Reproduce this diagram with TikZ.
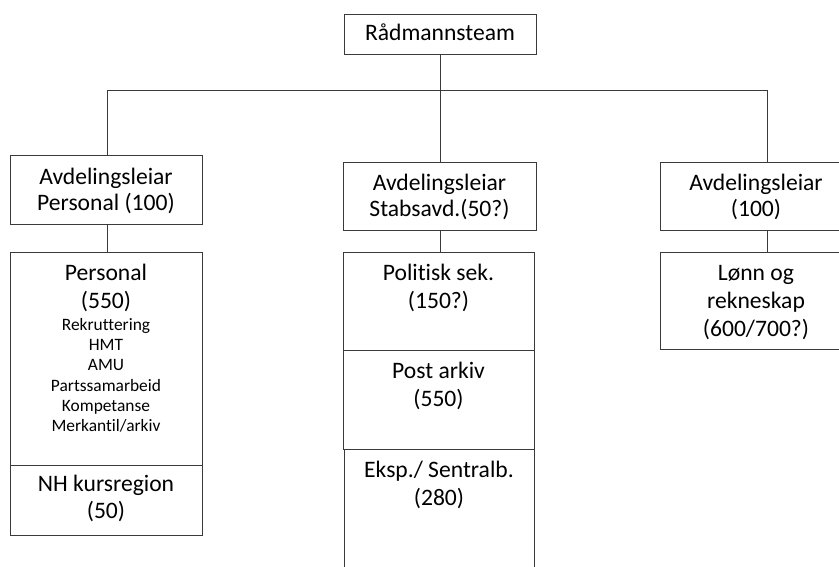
\documentclass[tikz,border=0pt]{standalone}
\usepackage{fontspec}
\setmainfont{Carlito}[Ligatures=NoCommon]
\definecolor{linec}{HTML}{3A3A3A}
\newcommand{\bigstrut}{\rule{0pt}{20pt}}
\newcommand{\smallstrut}{\rule{0pt}{15pt}}
\begin{document}
\begin{tikzpicture}[x=1pt,y=-1pt,
  box/.style={draw=linec, line width=0.9pt, rectangle, inner sep=0pt},
  conn/.style={draw=linec, line width=0.9pt},
  bigtxt/.style={anchor=north, inner sep=0pt, align=center, text=black, font=\fontsize{23.6}{28}\selectfont},
  headtxt/.style={bigtxt, font=\fontsize{23.6}{26}\selectfont},
  smalltxt/.style={anchor=north, inner sep=0pt, align=center, text=black, font=\fontsize{17.4}{20.3}\selectfont}]
\fill[white] (0,0) rectangle (839,567);
\clip (0,0) rectangle (839,567);
% boxes
\node[box, minimum width=192pt, minimum height=40pt] (rad) at (440,34) {};
\node[box, minimum width=192pt, minimum height=69pt] (L1) at (106,189.5) {};
\node[box, minimum width=193pt, minimum height=68pt] (M1) at (439.5,196) {};
\node[box, minimum width=192pt, minimum height=68pt] (R1) at (756,196) {};
\node[box, minimum width=192pt, minimum height=213pt] (L2) at (106,358.5) {};
\node[box, minimum width=192pt, minimum height=70pt] (L3) at (106,500) {};
\node[box, minimum width=191pt, minimum height=98pt] (M2) at (438.5,301) {};
\node[box, minimum width=191pt, minimum height=99pt] (M3) at (438.5,399.5) {};
\node[box, minimum width=190pt, minimum height=151pt] (M4) at (439,524.5) {};
\node[box, minimum width=192pt, minimum height=97pt] (R2) at (756,300.5) {};
% connectors
\coordinate (busL) at (107,90);
\coordinate (busR) at (767,90);
\draw[conn] (rad.south) -- (rad.south |- M1.north);
\draw[conn] (busL) -- (busR);
\draw[conn] (busL) -- (busL |- L1.north);
\draw[conn] (busR) -- (busR |- R1.north);
\draw[conn] (L1.south -| busL) -- (L2.north -| busL);
\draw[conn] (M1.south -| rad.south) -- (M2.north -| rad.south);
\draw[conn] (R1.south -| busR) -- (R2.north -| busR);
% texts
\node[bigtxt] (radT) at (440,20) {\bigstrut Rådmannsteam};
\node[headtxt] (L1T) at (106,164.5) {\bigstrut Avdelingsleiar\\Personal (100)};
\node[headtxt] (M1T) at (439.5,170) {\bigstrut Avdelingsleiar\\Stabsavd.(50?)};
\node[headtxt] (R1T) at (756,170) {\bigstrut Avdelingsleiar\\(100)};
\node[bigtxt] (L2T) at (106,260) {\bigstrut Personal\\(550)};
\node[smalltxt] (L2S) at (106,315) {\smallstrut Rekruttering\\HMT\\AMU\\Partssamarbeid\\Kompetanse\\Merkantil/arkiv};
\node[bigtxt, font=\fontsize{23.6}{27}\selectfont] (L3T) at (106,471.7) {\bigstrut NH kursregion\\(50)};
\node[bigtxt] (M2T) at (438.5,260) {\bigstrut Politisk sek.\\(150?)};
\node[bigtxt] (M3T) at (438.5,358) {\bigstrut Post arkiv\\(550)};
\node[bigtxt] (M4T) at (439,457) {\bigstrut Eksp./ Sentralb.\\(280)};
\node[bigtxt] (R2T) at (756,260) {\bigstrut Lønn og\\rekneskap\\(600/700?)};
\end{tikzpicture}
\end{document}
